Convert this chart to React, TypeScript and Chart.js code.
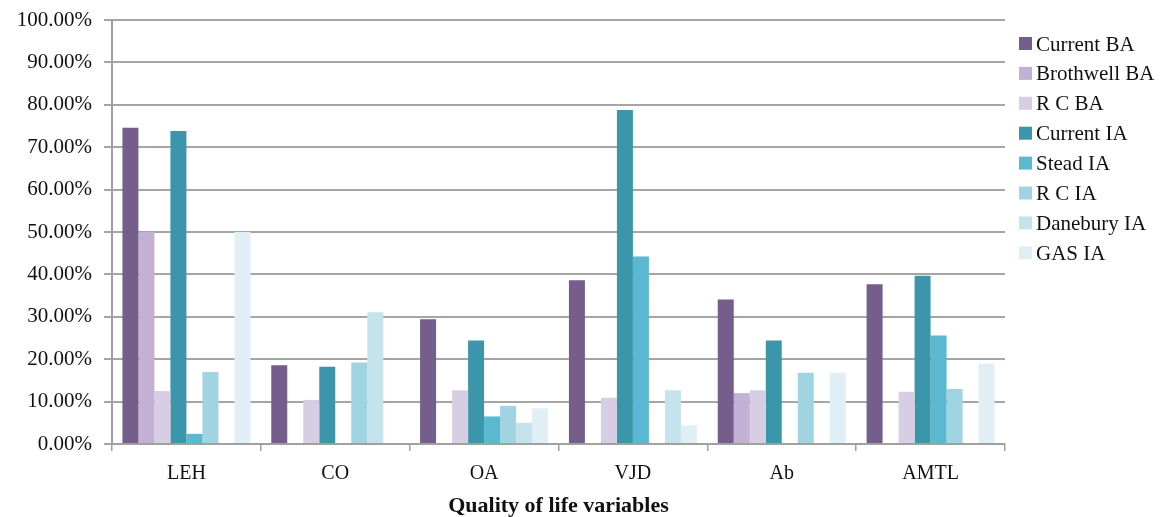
import React, { useEffect, useRef } from "react";
import { Chart, registerables } from "chart.js";

Chart.register(...registerables);

const categories = ["LEH", "CO", "OA", "VJD", "Ab", "AMTL"];
const seriesNames = [
  "Current BA",
  "Brothwell BA",
  "R C BA",
  "Current IA",
  "Stead IA",
  "R C IA",
  "Danebury IA",
  "GAS IA",
];
const currentBA = [74.6, 18.6, 29.4, 38.6, 34.1, 37.7];
const brothwellBA = [50.0, 0, 0, 0, 12.0, 0];
const rcBA = [12.5, 10.4, 12.7, 10.9, 12.7, 12.3];
const currentIA = [73.8, 18.2, 24.4, 78.8, 24.4, 39.7];
const steadIA = [2.4, 0, 6.5, 44.2, 0, 25.6];
const rcIA = [17.0, 19.2, 9.0, 0, 16.8, 13.0];
const daneburyIA = [0, 31.1, 5.0, 12.7, 0, 0];
const gasIA = [50.0, 0, 8.4, 4.4, 16.8, 18.9];
const seriesValues = [currentBA, brothwellBA, rcBA, currentIA, steadIA, rcIA, daneburyIA, gasIA];
const seriesColors = [
  "#755e8c",
  "#c2b1d4",
  "#d7cee3",
  "#3c96ab",
  "#5bb8d2",
  "#a1d4e3",
  "#c4e3ec",
  "#e0eef5",
];
const xTitle = "Quality of life variables";

const FONT = "'Liberation Serif', 'Times New Roman', serif";

const legendPlugin = {
  id: "customLegend",
  afterDraw(chart: any) {
    const ctx = chart.ctx;
    ctx.save();
    ctx.font = `21px ${FONT}`;
    ctx.textBaseline = "middle";
    ctx.textAlign = "left";
    chart.data.datasets.forEach((ds: any, i: number) => {
      const cy = 44 + i * 29.9;
      ctx.fillStyle = ds.backgroundColor;
      ctx.fillRect(1019, cy - 7, 13, 13);
      ctx.fillStyle = "#111";
      ctx.fillText(ds.label, 1036, cy + 1);
    });
    ctx.restore();
  },
};

export default function App() {
  const ref = useRef<HTMLCanvasElement>(null);
  useEffect(() => {
    if (!ref.current) return;
    const chart = new Chart(ref.current, {
      type: "bar",
      data: {
        labels: categories,
        datasets: seriesNames.map((name, i) => ({
          label: name,
          data: seriesValues[i],
          backgroundColor: seriesColors[i],
          borderWidth: 0,
          categoryPercentage: 0.86,
          barPercentage: 1.0,
        })),
      },
      options: {
        responsive: false,
        animation: false,
        layout: { padding: { left: 0, right: 165, top: 0, bottom: 0 } },
        plugins: {
          legend: { display: false },
          tooltip: { enabled: false },
        },
        scales: {
          x: {
            offset: true,
            afterFit: (scale: any) => {
              scale.height = 73;
            },
            grid: {
              offset: true,
              drawOnChartArea: false,
              drawTicks: true,
              tickLength: 7,
              color: "#a0a0a0",
              lineWidth: 1.5,
            },
            border: { color: "#a0a0a0", width: 2 },
            ticks: {
              color: "#111",
              font: { family: FONT, size: 20 },
              padding: 11,
            },
            title: {
              display: true,
              text: xTitle,
              color: "#111",
              font: { family: FONT, size: 22, weight: "bold" },
              padding: { top: 0, bottom: -3 },
            },
          },
          y: {
            min: 0,
            max: 100,
            afterFit: (scale: any) => {
              scale.width = 112;
              scale.paddingTop = 20;
            },
            grid: {
              color: "#a5a5a5",
              lineWidth: 2,
              tickLength: 8,
            },
            border: { color: "#a0a0a0", width: 2 },
            ticks: {
              stepSize: 10,
              color: "#111",
              font: { family: FONT, size: 21 },
              padding: 12,
              callback: (v: any) => Number(v).toFixed(2) + "%",
            },
          },
        },
      },
      plugins: [legendPlugin],
    });
    return () => chart.destroy();
  }, []);
  return (
    <div style={{ position: "absolute", left: 0, top: 0, width: 1170, height: 517, background: "#fff" }}>
      <canvas ref={ref} width={1170} height={517} style={{ width: 1170, height: 517 }} />
    </div>
  );
}
